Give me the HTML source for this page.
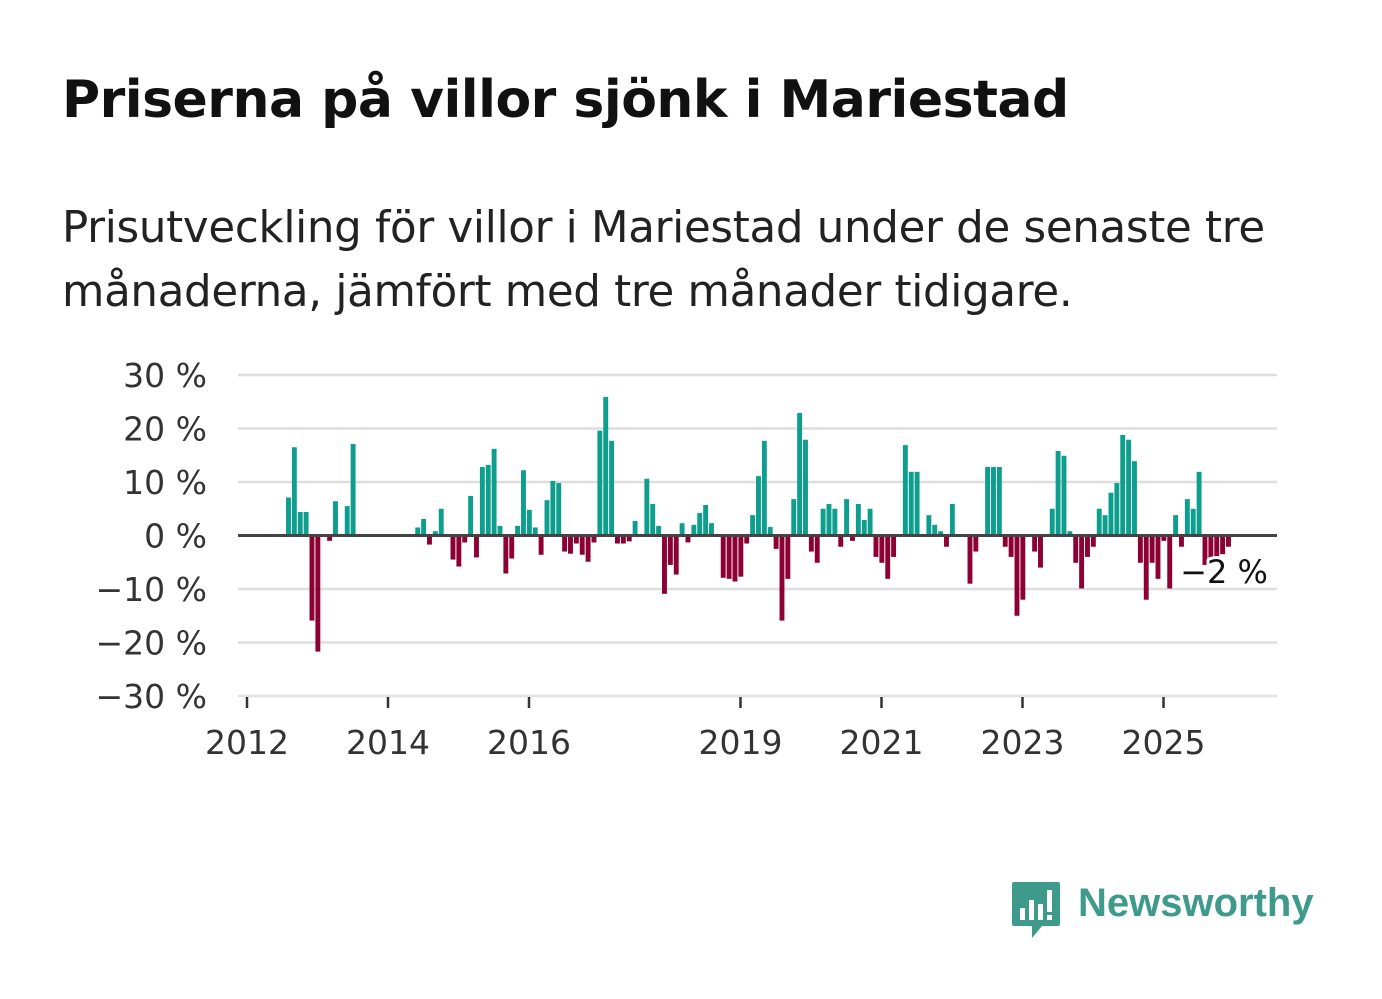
<!DOCTYPE html>
<html><head><meta charset="utf-8">
<style>
body{margin:0;background:#fff;width:1382px;height:999px;overflow:hidden;font-family:"Liberation Sans","DejaVu Sans",sans-serif;}
h1{position:absolute;left:62px;top:70px;margin:0;font-size:52px;font-weight:bold;color:#111;font-family:"DejaVu Sans","Liberation Sans",sans-serif;letter-spacing:-0.5px}
p{position:absolute;left:62px;top:196px;margin:0;font-size:43.5px;line-height:64px;color:#222;width:1290px;font-family:"DejaVu Sans","Liberation Sans",sans-serif;letter-spacing:-0.3px}
</style></head><body>
<h1>Priserna på villor sjönk i Mariestad</h1>
<p>Prisutveckling för villor i Mariestad under de senaste tre<br>månaderna, jämfört med tre månader tidigare.</p>
<svg id="chart" width="1382" height="999" style="position:absolute;left:0;top:0" font-family="DejaVu Sans, Liberation Sans, sans-serif"></svg>
<div style="position:absolute;left:1010px;top:878px;width:320px;height:64px">
<svg width="52" height="62" style="position:absolute;left:0;top:2px">
<path d="M4 2 H48 Q50 2 50 4 V44 Q50 46 48 46 H32 L22 58 L22 46 H4 Q2 46 2 44 V4 Q2 2 4 2Z" fill="#3e9b8b"/>
<rect x="10" y="28" width="5" height="12" fill="#fff"/><rect x="19" y="20" width="5" height="20" fill="#fff"/><rect x="28" y="24" width="5" height="16" fill="#fff"/><rect x="37" y="10" width="5" height="22" fill="#fff"/><rect x="37" y="35" width="5" height="5" fill="#fff"/>
</svg>
<span style="position:absolute;left:68px;top:3px;font-size:40px;font-weight:bold;color:#3e9b8b;font-family:'Liberation Sans',sans-serif">Newsworthy</span>
</div>
<script>
const yTicks=[30,20,10,0,-10,-20,-30];
const yTickLabels=["30 %","20 %","10 %","0 %","−10 %","−20 %","−30 %"];
const xTickYears=[2012,2014,2016,2019,2021,2023,2025];
const startYear=2012;
// monthly values, index 0 = Jan 2012
const values=[0,0,0,0,0,0,0,7.1,16.5,4.4,4.4,-15.9,-21.7,0,-1,6.4,0,5.5,17.1,0,
0,0,0,0,0,0,0,0,0,1.5,3.1,-1.7,0.8,5.0,0,-4.5,-5.8,-1.3,7.4,-4.1,
12.8,13.2,16.2,1.8,-7.1,-4.3,1.8,12.2,4.8,1.5,-3.6,6.6,10.2,9.8,-3.0,-3.4,-1.5,-3.6,-4.9,-1.3,
19.6,25.9,17.7,-1.5,-1.5,-1.1,2.7,0,10.6,5.9,1.8,-10.9,-5.5,-7.3,2.3,-1.3,2.0,4.2,5.7,2.3,
0,-7.9,-8.1,-8.6,-7.7,-1.5,3.8,11.1,17.7,1.6,-2.5,-15.9,-8.1,6.8,22.9,17.9,-3.0,-5.1,5.0,5.9,
5.0,-2.1,6.8,-1.0,5.9,2.9,5.0,-4.0,-5.1,-8.1,-4.0,0,16.9,11.9,11.9,0,3.8,2.0,0.8,-2.1,
5.9,0,0,-9.0,-3.0,0,12.8,12.8,12.8,-2.1,-4.0,-15.0,-12.0,0,-3.0,-6.0,0,5.0,15.8,14.9,
0.8,-5.1,-9.9,-4.0,-2.1,5.0,3.8,8.0,9.8,18.8,17.9,13.9,-5.1,-12.0,-5.1,-8.1,-1.0,-9.9,3.8,-2.1,
6.8,5.0,11.9,-5.5,-4.2,-4.0,-3.5,-2.1];
const lastLabel="−2 %";

const svg=document.getElementById('chart');
const NS='http://www.w3.org/2000/svg';
const x0=247, pxPerYear=70.5, pxPerMonth=pxPerYear/12;
const yZero=535.5, pxPerPct=5.35;
const xL=238, xR=1277;
function xMonth(i){return x0+i*pxPerMonth+0.4;}
function xYear(y){return x0+(y-startYear)*pxPerYear;}
function yVal(v){return yZero-v*pxPerPct;}
function mk(tag,attrs){const e=document.createElementNS(NS,tag);for(const k in attrs)e.setAttribute(k,attrs[k]);svg.appendChild(e);return e;}

yTicks.forEach((t,i)=>{
  if(t!==0){const g=mk('line',{x1:xL,x2:xR,y1:yVal(t),y2:yVal(t),stroke:'#dedede','stroke-width':2.5});
  
  }
  const tx=mk('text',{x:207,y:yVal(t)+12,'text-anchor':'end','font-size':33,fill:'#333'});
  tx.textContent=yTickLabels[i];
  
  
});
values.forEach((v,i)=>{
  if(v===0)return;
  const y=yVal(Math.max(v,0)), h=Math.abs(v)*pxPerPct;
  const r=mk('rect',{x:xMonth(i)-2.5,y:y,width:4.9,height:h,fill:v>0?'#0e9e8e':'#8c0034'});
  
  
});
const zl=mk('line',{x1:xL,x2:xR,y1:yZero,y2:yZero,stroke:'#444','stroke-width':3});


const ax=mk('line',{x1:xL,x2:xR,y1:696,y2:696,stroke:'#e6e6e6','stroke-width':1});


xTickYears.forEach(yr=>{
  const tk=mk('line',{x1:xYear(yr),x2:xYear(yr),y1:697,y2:708,stroke:'#333','stroke-width':2.5});
  
  
  const tx=mk('text',{x:xYear(yr),y:754,'text-anchor':'middle','font-size':33,fill:'#333'});
  tx.textContent=String(yr);
  
  
});
const lb=mk('text',{x:1224,y:583,'text-anchor':'middle','font-size':32,fill:'#111',stroke:'#fff','stroke-width':6,'paint-order':'stroke','stroke-linejoin':'round'});
lb.textContent=lastLabel;


</script>
</body></html>
